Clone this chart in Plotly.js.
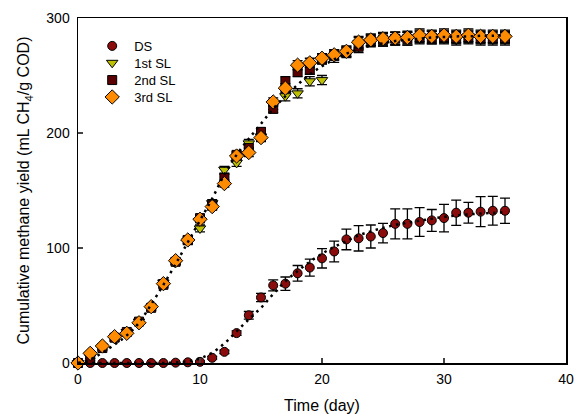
<!DOCTYPE html>
<html>
<head>
<meta charset="utf-8">
<script src="https://cdn.plot.ly/plotly-3.0.1.min.js"></script>
<style>html,body{margin:0;padding:0;background:#fff;}#chart{width:578px;height:414px;}</style>
</head>
<body>
<div id="chart"></div>
<script>
// Time (day)
var days = [0,1,2,3,4,5,6,7,8,9,10,11,12,13,14,15,16,17,18,19,20,21,22,23,24,25,26,27,28,29,30,31,32,33,34,35];

// Measured cumulative methane yield (mL CH4/g COD)
var ds   = [0,0,0,0,0,0,0,0,0.3,0.6,1,4.5,9.7,26,41.5,57,67.5,69,78,83,91,97,107.5,108.4,110,113,121,121,122.6,124,126,130.7,130.7,131.6,132.4,132.4];
var dsErr = [0,0,0,0,0,0,0,0,0,0.5,0.8,1.2,1.5,2,3.3,3.6,4.8,5.8,6.8,7.4,8.4,9,9,11,10,8.5,13,13,12.5,9.5,12,11,9,13,12.5,11];

var sl1 = [0,5,13,21,27,36,48,70,88,106,117,139,168,174,191,197,224,232,234.5,245,246,266,270,278,280,281,282,282,284,283,284,283,284,283,283,283];
var sl2 = [0,3,13,22,27,36,48,68,88,107,126,137,161,181,187,201,221,245,253,255,264,268,271,275,281,281,282,282,283,283,283,282,283,282,282,282];
var sl3 = [0,8.4,14.8,22.9,25.8,35,49,69,89,107,125,136,156,180,183,196,227,239,259,261,265,268,271,279,281,282,282.5,283,285,284,285,284,285,284,284,284];
var slErr = [0,1,1.5,2,2,2,2,2.5,2.5,3,3,3,3,3,3.5,3.5,3.5,4,4,4,4,4.5,4.5,5,5,5.5,5.5,5.5,5.5,5.5,5.5,5.5,5.5,5.5,5.5,5.5];

// Model fit curves
var fitDS = [0,0,0,0,0,0,0,0,0.5,1.5,4,9,17,27.5,38,48,60,71,80,88,95,101,106,111,114.5,117.5,120,122,123.7,125.5,127,128.3,129.2,130,130.5,131];
var fitSL = [0,3,9,16,24,35,51,68,86,105,124,143,164,181,195,208,221,232,242,251,258,264,269,273,276,278,280,281,282,283,283.5,284,284,284.5,284.5,285];

var names = ['DS','1st SL','2nd SL','3rd SL'];
var colors = ['#8b0c0c','#bcc000','#5a0000','#ff8c00'];
var symbols = ['circle','triangle-down','square','diamond'];
var sizes = [9,10,9,11];
var legendIds = ['legend','legend2','legend3','legend4'];
var legendY = [0.919, 0.870, 0.820, 0.771];

function errBar(arr){
  return {type:'data', array:arr, visible:true, color:'#000', thickness:1.3, width:5};
}

var series = [ds, sl1, sl2, sl3];
var errs = [dsErr, slErr, slErr, slErr];
var traces = [];
series.forEach(function(s, i){
  traces.push({
    x: days, y: s, name: names[i], type:'scatter', mode:'markers',
    cliponaxis:false, legend: legendIds[i],
    error_y: errBar(errs[i]),
    marker:{symbol:symbols[i], color:colors[i], size:sizes[i], line:{color:'#000', width:1}}
  });
});
[fitDS, fitSL].forEach(function(f){
  traces.push({
    x: days, y: f, type:'scatter', mode:'lines', showlegend:false, hoverinfo:'skip',
    cliponaxis:false,
    line:{color:'#000', width:2.5, dash:'2.5px,4.5px', shape:'spline'}
  });
});

var fam = '"Liberation Sans", Arial, sans-serif';
var layout = {
  width:578, height:414,
  margin:{l:78, r:12, t:18, b:51},
  paper_bgcolor:'#fff', plot_bgcolor:'#fff',
  font:{family:fam, color:'#000', size:14},
  showlegend:true,
  xaxis:{
    range:[0,40], tickvals:[0,10,20,30,40], ticks:'inside', ticklen:5, tickwidth:1.2,
    showgrid:false, zeroline:false, showline:true, linecolor:'#000', linewidth:1.5, mirror:true,
    ticklabelstandoff:3,
    tickfont:{family:fam, size:14, color:'#000'},
    title:{text:'Time (day)', font:{family:fam, size:16, color:'#000'}, standoff:14}
  },
  yaxis:{
    range:[0,300], tickvals:[0,100,200,300], ticks:'inside', ticklen:5, tickwidth:1.2,
    showgrid:false, zeroline:false, showline:true, linecolor:'#000', linewidth:1.5, mirror:true,
    ticklabelstandoff:4,
    tickfont:{family:fam, size:14, color:'#000'},
    title:{text:'Cumulative methane yield (mL CH<sub>4</sub>/g COD)', font:{family:fam, size:16, color:'#000'}, standoff:12}
  }
};
legendIds.forEach(function(id, i){
  layout[id] = {x:0.025, y:legendY[i], xanchor:'left', yanchor:'middle', bgcolor:'rgba(0,0,0,0)',
    itemwidth:34, font:{family:fam, size:13, color:'#000'}};
});

Plotly.newPlot('chart', traces, layout, {displayModeBar:false, staticPlot:true});
</script>
</body>
</html>
